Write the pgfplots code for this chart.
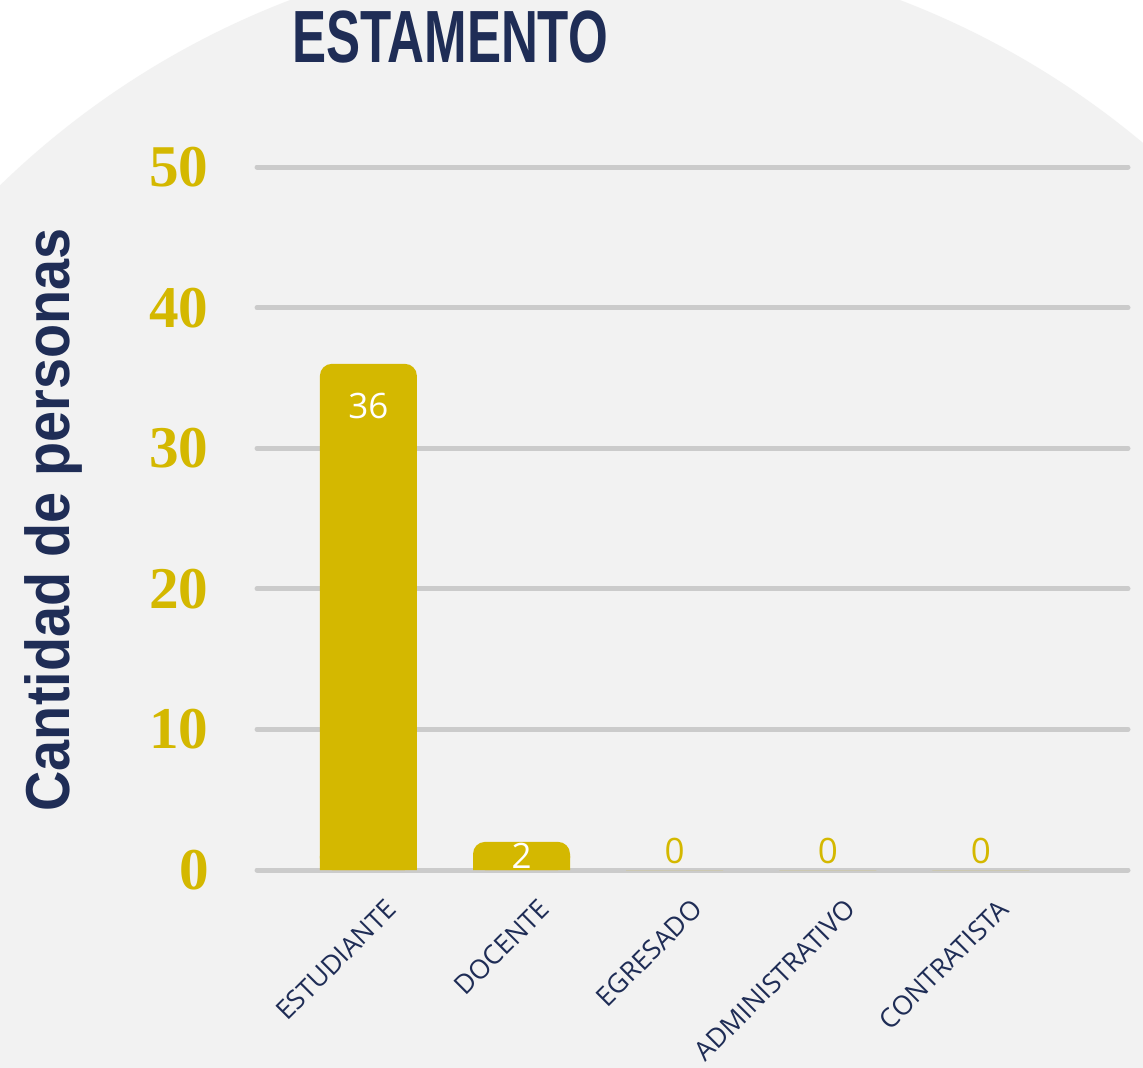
\documentclass[border=0pt]{standalone}
\usepackage{pgfplots}
\pgfplotsset{compat=1.18}
\usepackage{pgfplotstable}
\usepackage{fontspec}
\setmainfont{Open Sans}
\newfontfamily\headfont{Liberation Sans}
\newfontfamily\numfont{Liberation Serif}
\definecolor{gold}{RGB}{212,184,0}
\definecolor{navy}{RGB}{31,45,86}
\definecolor{gridgray}{RGB}{203,203,203}
\definecolor{bggray}{RGB}{242,242,242}

% dy: label offset (pt) from bar top; w: 100 = white label, 0 = gold label
\pgfplotstableread{
idx value dy w
0 36 -21 100
1 2 -7 100
2 0 9.5 0
3 0 9.5 0
4 0 9.5 0
}\estamento

\begin{document}
\begin{tikzpicture}
\path[use as bounding box] (0,0) rectangle (571.5pt,-534pt);
\fill[white] (0,0) rectangle (571.5pt,-534pt);
\begin{scope}
\clip (0,0) rectangle (571.5pt,-534pt);
\fill[bggray] (297.5pt,-399pt) circle (427pt);
\end{scope}
\begin{axis}[
  at={(128.5pt,-435pt)}, anchor=south west,
  scale only axis, width=435.5pt, height=351.5pt,
  xmin=-0.7276, xmax=4.961, ymin=0, ymax=50,
  ytick={0,10,...,50},
  xtick={0,...,4},
  xticklabels={ESTUDIANTE,DOCENTE,EGRESADO,ADMINISTRATIVO,CONTRATISTA},
  axis line style={draw=none},
  major tick style={draw=none},
  ymajorgrids,
  grid style={line width=2.5pt, gridgray, line cap=round},
  /pgf/number format/assume math mode=true,
  yticklabel style={font=\numfont\bfseries\fontsize{29.6}{30}\selectfont, text=gold, anchor=east, inner sep=0pt, xshift=-24pt},
  xticklabel style={font=\fontsize{13.3}{14}\selectfont, text=navy, xshift=8pt, yshift=-13.5pt, rotate=45, anchor=north east, inner sep=0pt},
  title={\scalebox{0.69}[1]{ESTAMENTO}},
  title style={font=\headfont\bfseries\fontsize{37}{38}\selectfont, text=navy, at={(axis description cs:0.2216,1.168)}, anchor=center, inner sep=0pt},
  ylabel={\scalebox{0.9}[1]{Cantidad de personas}},
  ylabel style={font=\headfont\bfseries\fontsize{31}{32}\selectfont, text=navy, at={(axis description cs:-0.234,0.498)}, anchor=center, inner sep=0pt},
  clip=false,
]
% square-cornered base so that only the top corners look rounded
\addplot[ybar, bar width=48.5pt, bar shift=0pt, fill=gold, draw=none,
  y filter/.expression={min(y,1)}] table[x=idx, y=value] {\estamento};
% bars with rounded corners (zero values have no bar)
\addplot[ybar, bar width=48.5pt, bar shift=0pt, fill=gold, draw=none, rounded corners=6pt,
  restrict y to domain=0.001:1000] table[x=idx, y=value] {\estamento};
% value labels
\addplot[draw=none, mark=none,
  visualization depends on={\thisrow{dy} \as \labeldy},
  visualization depends on={\thisrow{w} \as \labelw},
  nodes near coords,
  nodes near coords style={font=\fontsize{17.5}{18}\selectfont, text=white!\labelw!gold, anchor=center, inner sep=0pt, yshift=\labeldy pt},
] table[x=idx, y=value] {\estamento};
\end{axis}
\end{tikzpicture}
\end{document}
